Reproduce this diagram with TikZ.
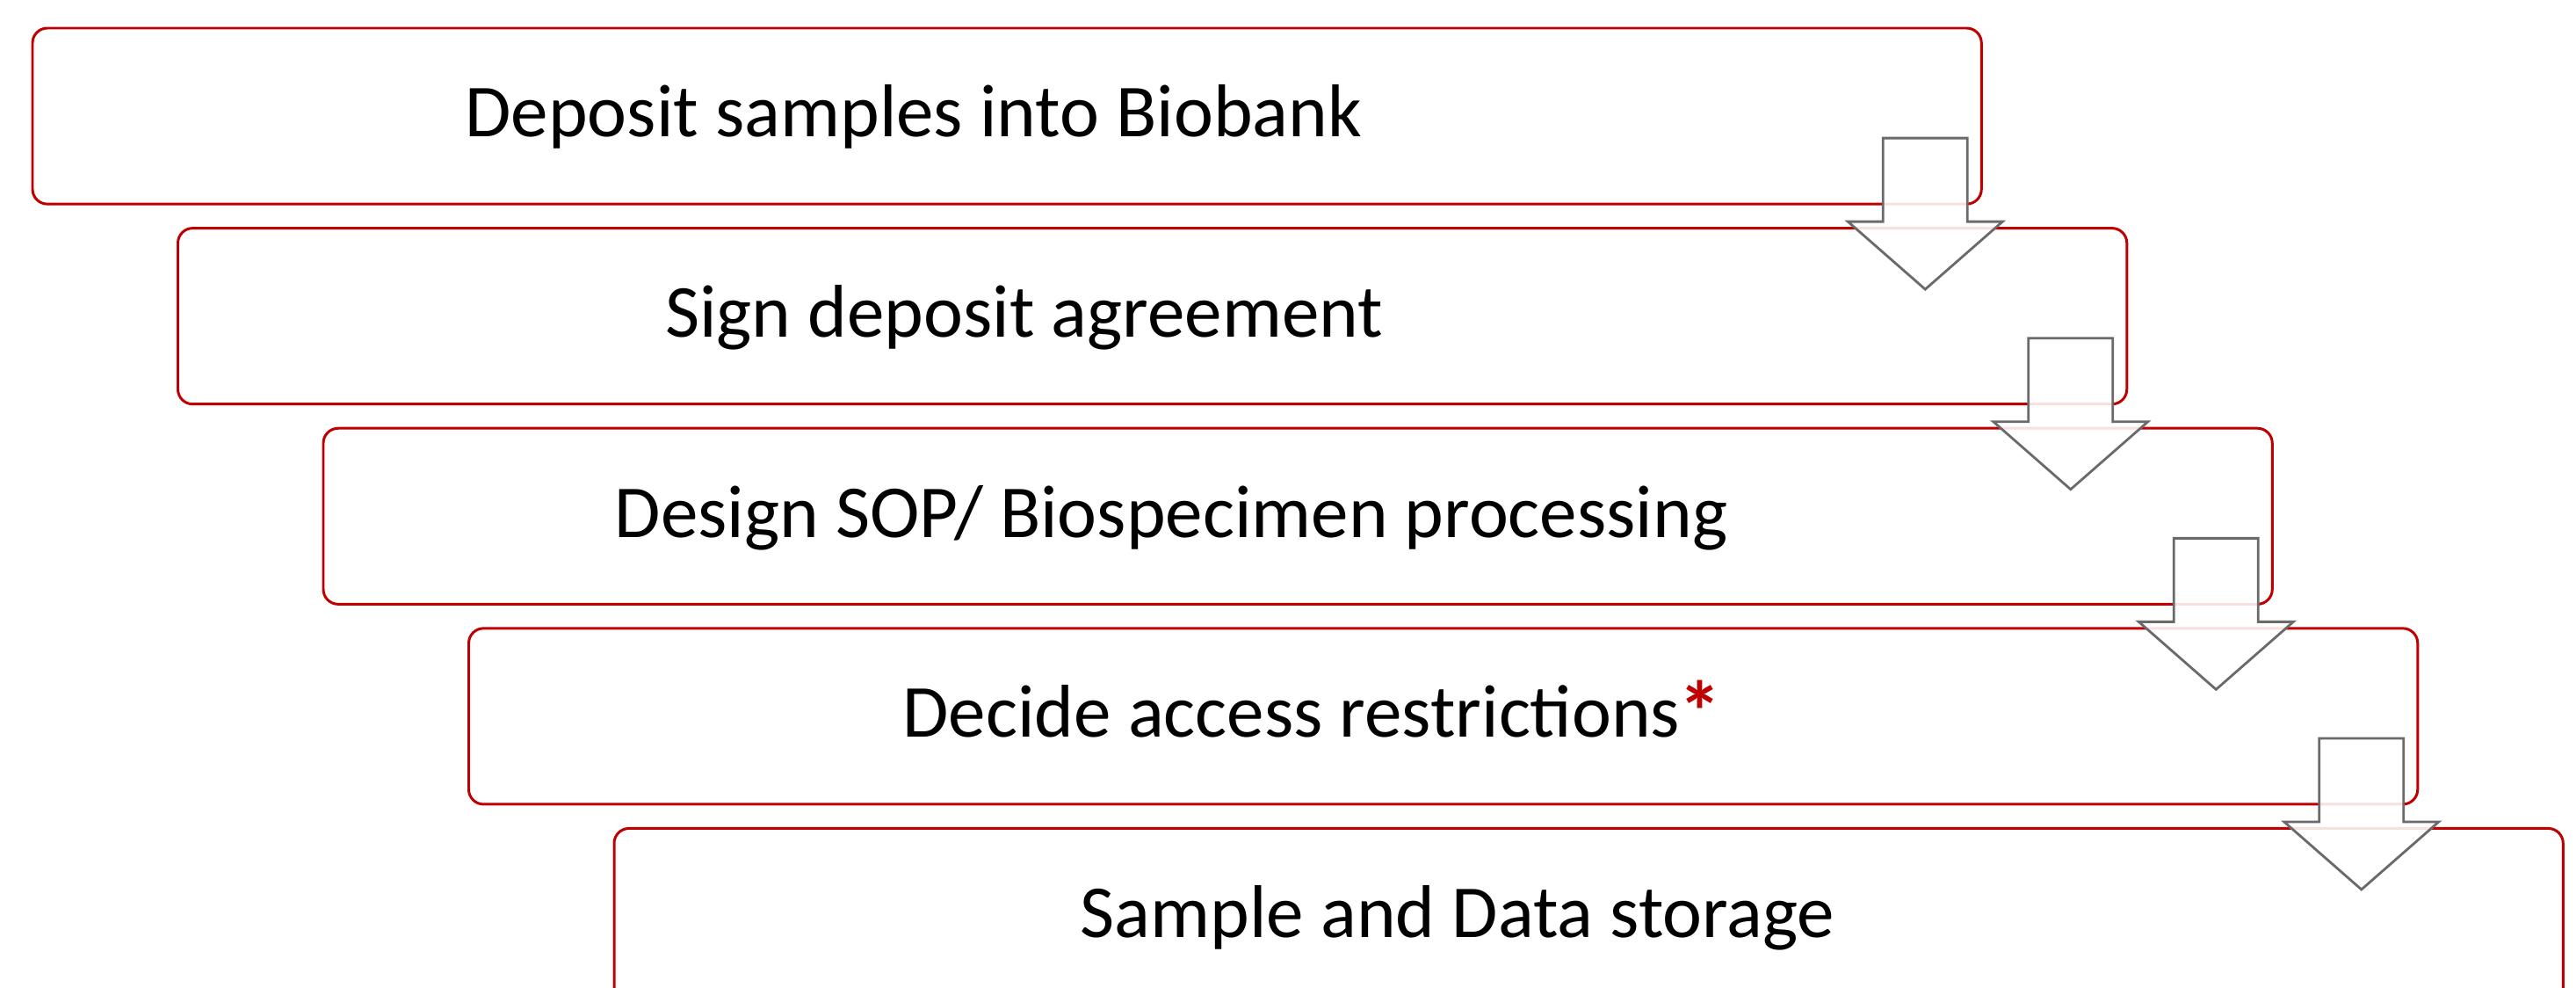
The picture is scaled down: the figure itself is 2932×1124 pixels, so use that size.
\documentclass[tikz,border=0pt]{standalone}
\usepackage{fontspec}
\setmainfont{Carlito}
\usepackage{tikz}
\usetikzlibrary{positioning}

\definecolor{boxred}{HTML}{C00000}
\definecolor{arrowgray}{HTML}{6A6A6A}

\tikzset{
  stepbox/.style={draw=boxred, line width=0.85pt, fill=white, rounded corners=4.8pt,
    minimum width=22.17cm, minimum height=2cm, inner sep=0pt, outer sep=0pt},
  steptext/.style={anchor=base, inner sep=0pt, font=\fontsize{24.2}{29}\selectfont},
  blockarrow/.style={draw=arrowgray, line width=0.8pt, fill=white, fill opacity=0.88, line join=miter}
}

\begin{document}
\begin{tikzpicture}[x=0.01cm, y=-0.01cm]
    %\draw[help lines, step=100] (0, 0) grid (2932, 1124);
    \useasboundingbox (0, 0) rectangle (2932, 1124);
    \clip (0, 0) rectangle (2932, 1124);

    \node[stepbox, anchor=north west] (b1) at (37, 32) {};
    \node[stepbox, anchor=north west] (b2) at ([shift={(165.5,27.5)}]b1.south west) {};
    \node[stepbox, anchor=north west] (b3) at ([shift={(165.5,27.5)}]b2.south west) {};
    \node[stepbox, anchor=north west] (b4) at ([shift={(165.5,27.5)}]b3.south west) {};
    \node[stepbox, anchor=north west] (b5) at ([shift={(165.5,27.5)}]b4.south west) {};

    \node[steptext] (t1) at ([shift={(1003,124)}]b1.north west) {Deposit samples into Biobank};
    \node[steptext] (t2) at ([shift={(963,124)}]b2.north west) {Sign deposit agreement};
    \node[steptext] (t3) at ([shift={(965,124)}]b3.north west) {Design SOP/ Biospecimen processing};
    \node[steptext] (t4) at ([shift={(960,124)}]b4.north west) {Decide access restrictions\kern-0.5pt\textcolor{boxred}{\raisebox{-1.5pt}{\fontsize{28}{28}\selectfont\textbf{*}}}};
    \node[steptext] (t5) at ([shift={(960,124)}]b5.north west) {Sample and Data storage};

    % down arrows between the steps
    \draw[blockarrow] (b1.south east) ++(-112,-75) -- ++(96,0) -- ++(0,95) -- ++(40,0) -- ++(-88,77) -- ++(-88,-77) -- ++(40,0) -- cycle;
    \draw[blockarrow] (b2.south east) ++(-112,-75) -- ++(96,0) -- ++(0,95) -- ++(40,0) -- ++(-88,77) -- ++(-88,-77) -- ++(40,0) -- cycle;
    \draw[blockarrow] (b3.south east) ++(-112,-75) -- ++(96,0) -- ++(0,95) -- ++(40,0) -- ++(-88,77) -- ++(-88,-77) -- ++(40,0) -- cycle;
    \draw[blockarrow] (b4.south east) ++(-112,-75) -- ++(96,0) -- ++(0,95) -- ++(40,0) -- ++(-88,77) -- ++(-88,-77) -- ++(40,0) -- cycle;

\end{tikzpicture}
\end{document}
